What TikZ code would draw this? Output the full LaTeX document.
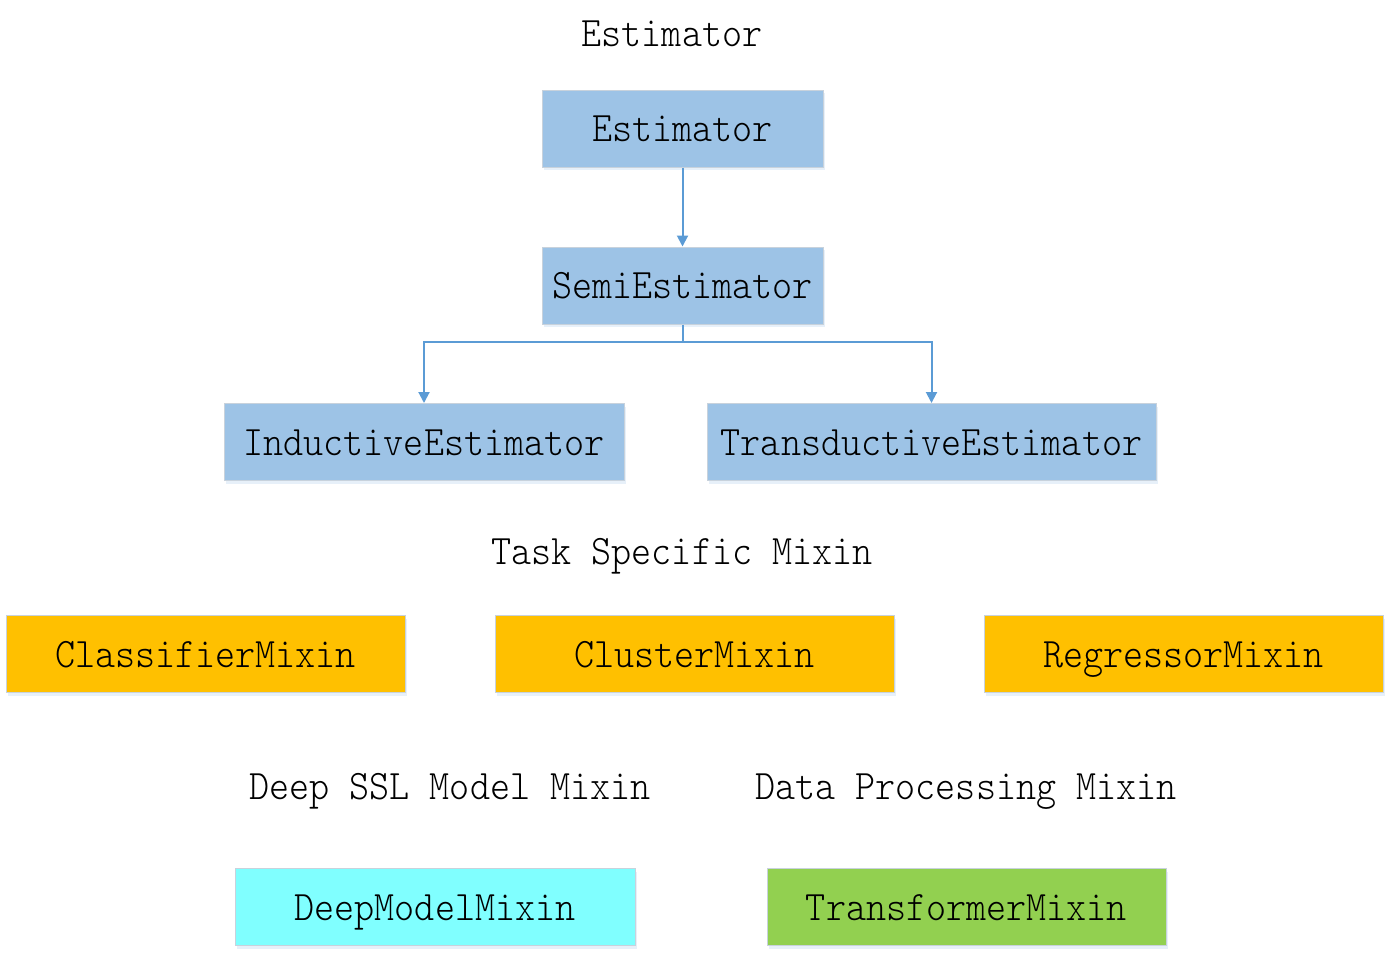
\documentclass[tikz,border=0pt]{standalone}
\usepackage{fontspec}
\newfontfamily\simfont[FakeStretch=0.91]{lmmonolt10-regular.otf}
\usetikzlibrary{arrows.meta,shadows}
\definecolor{boxblue}{HTML}{9DC3E6}
\definecolor{boxorange}{HTML}{FFC000}
\definecolor{boxcyan}{HTML}{80FFFF}
\definecolor{boxgreen}{HTML}{92D050}
\definecolor{linkblue}{HTML}{5B9BD5}
\definecolor{boxedge}{HTML}{C8D2DC}
\begin{document}
\begin{tikzpicture}[x=1pt,y=-1pt,
  font=\fontsize{42}{46}\selectfont\simfont,
  box/.style={draw=boxedge, line width=1pt, inner sep=0pt, text height=26pt, text depth=0pt,
    minimum height=77pt,
    drop shadow={shadow xshift=2pt, shadow yshift=-3pt, opacity=0.15, fill=linkblue}},
  bluebox/.style={box, fill=boxblue},
  orangebox/.style={box, fill=boxorange, minimum width=399pt},
  title/.style={inner sep=0pt, text height=26pt, text depth=0pt},
  link/.style={draw=linkblue, line width=2pt, -{Triangle[width=11pt,length=11pt]}}
]
\useasboundingbox (0,0) rectangle (1391,956);

\node[title] (t1) at (672,33) {Estimator};
\node[title] (t2) at (682,551) {Task Specific Mixin};
\node[title] (t3) at (450,786) {Deep SSL Model Mixin};
\node[title] (t4) at (966,786) {Data Processing Mixin};

\node[bluebox, minimum width=281pt] (est) at (682.5,128.5) {Estimator};
\node[bluebox, minimum width=281pt] (semi) at (682.5,285.5) {SemiEstimator};
\node[bluebox, minimum width=400pt] (ind) at (424,442) {InductiveEstimator};
\node[bluebox, minimum width=449pt] (trans) at (931.5,442) {TransductiveEstimator};

\node[orangebox] (cls) at (205.5,654) {ClassifierMixin};
\node[orangebox] (clu) at (694.5,654) {ClusterMixin};
\node[orangebox] (reg) at (1183.5,654) {RegressorMixin};

\node[box, fill=boxcyan, minimum width=400pt] (deep) at (435,907) {DeepModelMixin};
\node[box, fill=boxgreen, minimum width=399pt] (tf) at (966.5,907) {TransformerMixin};

\coordinate (split) at (682.5,342);
\draw[link] (est.south) -- (semi.north);
\draw[link] (semi.south) -- (split) -| (ind.north);
\draw[link] (split) -| (trans.north);
\end{tikzpicture}
\end{document}
